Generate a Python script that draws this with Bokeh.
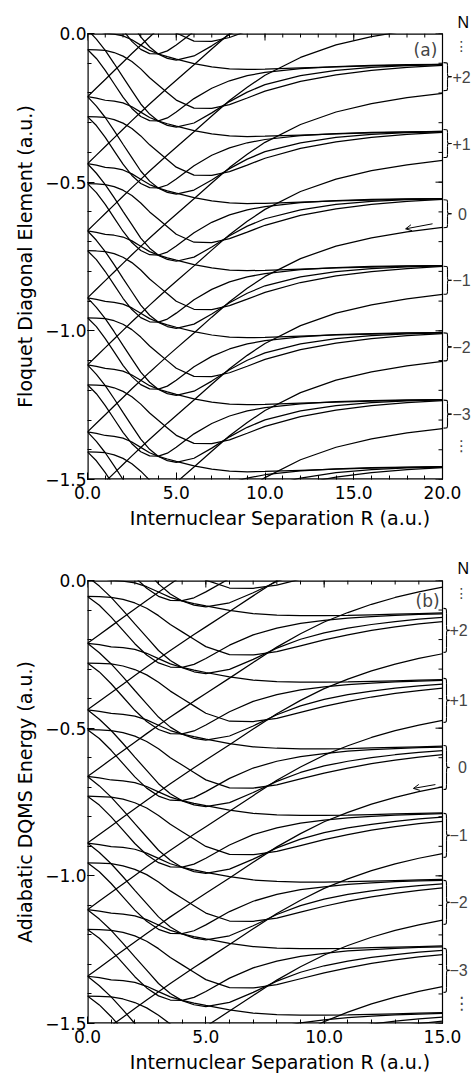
import numpy as np
from bokeh.plotting import figure
from bokeh.layouts import column
from bokeh.models import (Label, Arrow, OpenHead, FixedTicker, Range1d, Title,
                          CustomJSTickFormatter)
from bokeh.embed import file_html
from bokeh.resources import INLINE

# ---------------- data ----------------
OMEGA = 0.2255                       # photon energy (a.u.) = spacing of Floquet blocks
PHOTON_BLOCKS = list(range(-8, 8))   # Floquet blocks N (clipped by the frame)
BLOCK_LABELS = ["+2", "+1", "0", "-1", "-2", "-3"]

# panel (a): diabatic Floquet diagonal elements, reference block
R_A = [0, 0.5, 1, 1.5, 2, 2.5, 3, 3.5, 4, 4.5, 5, 6, 7, 8, 9, 10, 12, 14, 16, 18, 20]
A_S  = [-0.438, -0.409, -0.380, -0.351, -0.322, -0.293, -0.265, -0.237, -0.210, -0.183, -0.157,
        -0.105, -0.052, 0.000, 0.045, 0.085, 0.145, 0.187, 0.215, 0.235, 0.250]
A_A2 = [-0.438, -0.443, -0.450, -0.453, -0.459, -0.472, -0.490, -0.508, -0.520, -0.529, -0.537,
        -0.552, -0.563, -0.570, -0.572, -0.571, -0.567, -0.563, -0.560, -0.557, -0.555]
A_A3 = [-0.438, -0.470, -0.508, -0.552, -0.598, -0.643, -0.688, -0.722, -0.746, -0.760, -0.766,
        -0.752, -0.718, -0.680, -0.648, -0.623, -0.593, -0.575, -0.565, -0.559, -0.556]
A_D  = [-0.505, -0.506, -0.508, -0.515, -0.527, -0.545, -0.570, -0.600, -0.625, -0.650, -0.675,
        -0.702, -0.703, -0.690, -0.668, -0.645, -0.612, -0.590, -0.575, -0.565, -0.558]
A_B2 = [-0.505, -0.535, -0.575, -0.620, -0.665, -0.703, -0.730, -0.744, -0.745, -0.735, -0.715,
        -0.670, -0.635, -0.610, -0.593, -0.582, -0.569, -0.562, -0.558, -0.556, -0.555]

# panel (b): adiabatic DQMS energies, reference block
R_B = [0, 0.5, 1, 1.5, 2, 2.5, 3, 3.5, 4, 4.5, 5, 6, 7, 8, 9, 10, 11, 12, 13, 14, 15]
B_S  = [-0.438, -0.409, -0.380, -0.351, -0.322, -0.293, -0.265, -0.237, -0.210, -0.183, -0.157,
        -0.105, -0.052, 0.000, 0.045, 0.085, 0.117, 0.145, 0.168, 0.187, 0.203]
B_A2 = [-0.438, -0.443, -0.450, -0.453, -0.459, -0.472, -0.490, -0.508, -0.520, -0.529, -0.537,
        -0.552, -0.563, -0.568, -0.570, -0.570, -0.569, -0.567, -0.565, -0.563, -0.561]
B_A3 = [-0.438, -0.470, -0.508, -0.552, -0.598, -0.643, -0.688, -0.722, -0.746, -0.760, -0.766,
        -0.752, -0.718, -0.680, -0.650, -0.628, -0.612, -0.600, -0.590, -0.582, -0.576]
B_D  = [-0.505, -0.506, -0.508, -0.515, -0.527, -0.545, -0.570, -0.600, -0.625, -0.650, -0.675,
        -0.702, -0.703, -0.692, -0.672, -0.652, -0.635, -0.620, -0.608, -0.598, -0.590]
B_B2 = [-0.505, -0.535, -0.575, -0.620, -0.665, -0.703, -0.730, -0.744, -0.745, -0.735, -0.715,
        -0.670, -0.635, -0.612, -0.596, -0.586, -0.578, -0.573, -0.569, -0.566, -0.564]

# right-hand annotation positions (energy of each brace centre)
BRACE_A = [-0.145, -0.370, -0.606, -0.830, -1.054, -1.280]
BRACE_B = [-0.169, -0.406, -0.633, -0.863, -1.090, -1.320]

Y_MAJOR = [-1.5, -1.0, -0.5, 0.0]
Y_MINOR = [round(-0.1 * i, 2) for i in range(16)]

FONT = "DejaVu Sans"
LEFT = 87         # plot box left edge (px)
BOX_W = 355       # plot box width (px)
EXTRA_R = 472 - LEFT - BOX_W   # strip right of the box for the N labels (px)


def make_panel(R, curves, xmax, xticks, ylabel, tag, arrow, tag_xy,
               height, top_border, box_h, bottom_border,
               brace_e, brace_half, brace_tip, lab_left, n_standoff, dots_e, dots_size,
               xlab_off, ylab_off):
    dx = xmax / BOX_W
    dy = 1.5 / box_h
    x_end = xmax + EXTRA_R * dx
    p = figure(width=472, height=height, x_range=Range1d(0, x_end),
               y_range=Range1d(-1.5, 0.0), output_backend="svg", title=None,
               toolbar_location=None, min_border_left=LEFT, min_border_right=0,
               min_border_top=top_border, min_border_bottom=bottom_border)
    p.grid.visible = False
    p.outline_line_color = None
    p.background_fill_color = "white"
    p.border_fill_color = "white"

    xs, ys = [], []
    for c in curves:
        for n in PHOTON_BLOCKS:
            xs.append(list(R))
            ys.append([v + n * OMEGA for v in c])
    p.multi_line(xs, ys, line_color="black", line_width=1.25)

    fmt = CustomJSTickFormatter(code="return tick.toFixed(1).replace('-', '\u2212');")
    x_minor = list(range(0, int(xmax) + 1))
    yt = FixedTicker(ticks=Y_MAJOR, minor_ticks=Y_MINOR)
    xt = FixedTicker(ticks=xticks, minor_ticks=x_minor)

    for ax in p.xaxis + p.yaxis:
        ax.major_tick_in = 7
        ax.major_tick_out = 0
        ax.minor_tick_in = 4
        ax.minor_tick_out = 0
        ax.axis_line_color = None
        ax.major_tick_line_color = "black"
        ax.minor_tick_line_color = "black"
        ax.major_label_text_font = FONT
        ax.major_label_text_font_size = "17px"
        ax.major_label_text_color = "black"
        ax.formatter = fmt
    p.xaxis.ticker = xt
    p.yaxis.ticker = yt
    p.xaxis.major_label_standoff = 6
    p.yaxis.major_label_standoff = 1
    p.yaxis.major_label_text_baseline = "alphabetic"

    p.add_layout(Title(text="Internuclear Separation R (a.u.)", align="center",
                       offset=xlab_off, standoff=6, text_font=FONT, text_font_size="19px",
                       text_font_style="normal", text_color="black"), "below")
    p.add_layout(Title(text=ylabel, align="center", offset=ylab_off, standoff=14,
                       text_font=FONT, text_font_size="19px", text_font_style="normal",
                       text_color="black"), "left")
    # "N" heading of the Floquet block labels, above the right strip
    p.add_layout(Title(text="N", align="left", offset=457 - LEFT, standoff=n_standoff,
                       text_font="Liberation Sans", text_font_size="16px",
                       text_font_style="normal", text_color="black"), "above")

    # plot box and inward ticks on the top and right spines
    p.segment(x0=[0, 0], y0=[0, -1.5], x1=[xmax, xmax], y1=[0, -1.5],
              line_color="black", line_width=2.4)
    p.segment(x0=[0], y0=[-1.5], x1=[0], y1=[0], line_color="black", line_width=2.4)
    p.segment(x0=[xmax], y0=[-1.5], x1=[xmax], y1=[0], line_color="black", line_width=1.2)
    p.segment(x0=xticks, y0=[0.0] * len(xticks), x1=xticks, y1=[-7 * dy] * len(xticks),
              line_color="black", line_width=1)
    p.segment(x0=x_minor, y0=[0.0] * len(x_minor), x1=x_minor, y1=[-4 * dy] * len(x_minor),
              line_color="black", line_width=1)
    p.segment(x0=[xmax] * len(Y_MAJOR), y0=Y_MAJOR, x1=[xmax - 7 * dx] * len(Y_MAJOR), y1=Y_MAJOR,
              line_color="black", line_width=1)
    p.segment(x0=[xmax] * len(Y_MINOR), y0=Y_MINOR, x1=[xmax - 4 * dx] * len(Y_MINOR), y1=Y_MINOR,
              line_color="black", line_width=1)

    p.add_layout(Label(x=tag_xy[0], y=tag_xy[1], text=tag, text_font=FONT,
                       text_font_size="17px", text_align="center", text_baseline="middle"))
    p.add_layout(Arrow(end=OpenHead(size=6, line_width=1), x_start=arrow[0], y_start=arrow[1],
                       x_end=arrow[2], y_end=arrow[3], line_width=1))

    # ---- Floquet block labels to the right of the box ----
    def X(px):
        return (px - LEFT) * dx

    L, T = X(LEFT + BOX_W + 1), X(brace_tip)
    M = 0.5 * (L + T)
    hh = brace_half * dy
    q = 0.22 * hh
    bx0, by0, bx1, by1, bcx0, bcy0, bcx1, bcy1 = ([] for _ in range(8))
    sx0, sy0, sx1, sy1 = ([] for _ in range(4))
    for e in brace_e:
        for sgn in (1, -1):
            yend = e + sgn * hh
            bx0.append(L); by0.append(yend); bx1.append(M); by1.append(yend - sgn * q)
            bcx0.append(M); bcy0.append(yend); bcx1.append(M); bcy1.append(yend)
            bx0.append(M); by0.append(e + sgn * q); bx1.append(T); by1.append(e)
            bcx0.append(M); bcy0.append(e); bcx1.append(M); bcy1.append(e)
            sx0.append(M); sy0.append(yend - sgn * q); sx1.append(M); sy1.append(e + sgn * q)
    p.bezier(x0=bx0, y0=by0, x1=bx1, y1=by1, cx0=bcx0, cy0=bcy0, cx1=bcx1, cy1=bcy1,
             line_color="black", line_width=1.1)
    p.segment(x0=sx0, y0=sy0, x1=sx1, y1=sy1, line_color="black", line_width=1.1)

    p.add_layout(Label(x=X(461), y=-12 * dy, text="\u22ee", text_font=FONT,
                       text_font_size="14px", text_align="center", text_baseline="middle"))
    for e, lab in zip(brace_e, BLOCK_LABELS):
        if lab == "0":
            p.add_layout(Label(x=X(462), y=e, text=lab, text_font="Liberation Sans",
                               text_font_size="16px", text_align="center",
                               text_baseline="middle"))
        else:
            p.add_layout(Label(x=X(lab_left), y=e, text=lab.replace("-", "\u2212"),
                               text_font="Liberation Sans", text_font_size="16px",
                               text_align="left", text_baseline="middle"))
    p.add_layout(Label(x=X(461), y=dots_e, text="\u22ee", text_font=FONT,
                       text_font_size=dots_size, text_align="center", text_baseline="middle"))
    return p


# panel (a): box top at 33 px, box 446 px tall
pa = make_panel(R_A, [A_S, A_A2, A_A3, A_D, A_B2], 20, [0, 5, 10, 15, 20],
                "Floquet Diagonal Element (a.u.)", "(a)",
                (19.44, -0.640, 17.92, -0.657), (19.04, -0.057),
                545, 33, 446, 66,
                BRACE_A, 14, 451, 452, 6, -1.387, "15px", -11, 0)
# panel (b): canvas starts at 545 px, box top at 580 px, box 443 px tall
pb = make_panel(R_B, [B_S, B_A2, B_A3, B_D, B_B2], 15, [0, 5, 10, 15],
                "Adiabatic DQMS Energy (a.u.)", "(b)",
                (14.70, -0.691, 13.77, -0.704), (14.37, -0.068),
                535, 35, 443, 57,
                BRACE_B, 22, 449, 449, 7, -1.432, "17px", -15, -4)

layout = column(pa, pb)
open("out.html", "w").write(file_html(layout, INLINE))
